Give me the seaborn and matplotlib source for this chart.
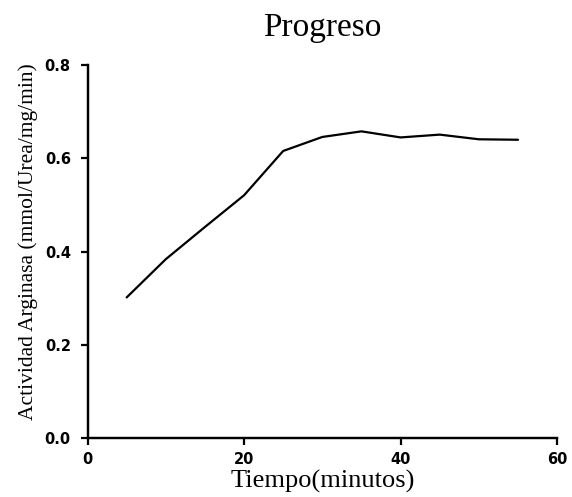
import matplotlib
matplotlib.use("Agg")
import matplotlib.pyplot as plt
import seaborn as sns
import pandas as pd

tiempo = [5, 10, 15, 20, 25, 30, 35, 40, 45, 50, 55]
actividad = [0.302, 0.384, 0.453, 0.521, 0.616, 0.646, 0.658, 0.645, 0.651, 0.641, 0.640]
x_ticks = [0, 20, 40, 60]
y_ticks = [0.0, 0.2, 0.4, 0.6, 0.8]

sns.set_theme(style="ticks")
plt.rcParams['font.family'] = ['Liberation Serif', 'DejaVu Serif']
plt.rcParams['text.color'] = 'black'
plt.rcParams['axes.labelcolor'] = 'black'
plt.rcParams['xtick.color'] = 'black'
plt.rcParams['ytick.color'] = 'black'

df = pd.DataFrame({"Tiempo": tiempo, "Actividad": actividad})

fig = plt.figure(figsize=(5.72, 4.97), dpi=100)
ax = fig.add_axes([0.153, 0.118, 0.821, 0.751])
sns.lineplot(data=df, x="Tiempo", y="Actividad", ax=ax, color="black", linewidth=1.6)

ax.set_xlim(0, 60)
ax.set_ylim(0, 0.8)
ax.set_xticks(x_ticks)
ax.set_yticks(y_ticks)
ax.set_xticklabels([str(v) for v in x_ticks], family='DejaVu Sans', fontweight='bold', fontsize=10.5)
ax.set_yticklabels([f"{v:.1f}" for v in y_ticks], family='DejaVu Sans', fontweight='bold', fontsize=10.5)

for s in ["top", "right"]:
    ax.spines[s].set_visible(False)
for s in ["left", "bottom"]:
    ax.spines[s].set_linewidth(1.75)
    ax.spines[s].set_color("black")
ax.tick_params(axis='both', length=5, width=1.6, color='black', direction='out')
ax.tick_params(axis='x', pad=5)
ax.tick_params(axis='y', pad=7)

ax.set_xlabel("Tiempo(minutos)", fontsize=19, labelpad=2)
ax.set_ylabel("Actividad Arginasa (mmol/Urea/mg/min)", fontsize=15.5)
ax.yaxis.set_label_coords(-0.105, 0.528)
ax.set_title("Progreso", fontsize=24, pad=21)

fig.savefig("out.png", dpi=100)
